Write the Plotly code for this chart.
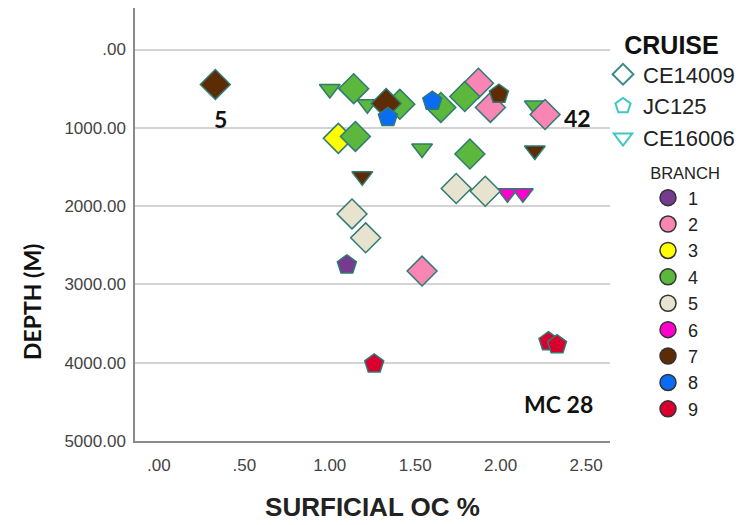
import plotly.graph_objects as go

# ---- data ----
cruise_names = ["CE14009", "JC125", "CE16006"]
branch_names = ["1", "2", "3", "4", "5", "6", "7", "8", "9"]

ce14009_oc =     [0.33, 1.14, 1.41, 1.33, 1.65, 1.87, 1.79, 1.94, 2.26, 1.05, 1.15, 1.82, 1.74, 1.91, 1.13, 1.21, 1.54]
ce14009_depth =  [446,  500,  700,  690,  740,  430,  600,  740,  830, 1135, 1110, 1335, 1775, 1810, 2100, 2405, 2830]
ce14009_branch = [7,    4,    4,    7,    4,    2,    4,    2,    2,    3,    4,    4,    5,    5,    5,    5,    2]

jc125_oc =     [1.34, 1.60, 1.99, 1.10, 2.28, 2.33, 1.26]
jc125_depth =  [866,  660,  570,  2750, 3730, 3770, 4015]
jc125_branch = [8,    8,    7,    1,    9,    9,    9]

ce16006_oc =     [1.00, 1.22, 2.20, 1.54, 2.20, 1.19, 2.04, 2.13]
ce16006_depth =  [505,  700,  715,  1265, 1290, 1620, 1835, 1835]
ce16006_branch = [4,    4,    4,    4,    7,    7,    6,    6]

x_tickvals = [0, 0.5, 1.0, 1.5, 2.0, 2.5]
x_ticktext = [".00", ".50", "1.00", "1.50", "2.00", "2.50"]
y_tickvals = [0, 1000, 2000, 3000, 4000, 5000]
y_ticktext = [".00", "1000.00", "2000.00", "3000.00", "4000.00", "5000.00"]

labels_text = ["5", "42", "MC 28"]
labels_x = [0.36, 2.45, 2.34]
labels_y = [892, 879, 4522]

# ---- styles ----
branch_colors = {1: "#763A8E", 2: "#F985B4", 3: "#FFFF00", 4: "#5CB83C", 5: "#E8E3CF",
                 6: "#FF00CC", 7: "#5E2C04", 8: "#0A6CF2", 9: "#D9002F"}
cruise_symbols = {"CE14009": "diamond", "JC125": "pentagon", "CE16006": "triangle-down"}
cruise_sizes = {"CE14009": 23, "JC125": 20, "CE16006": 18}
cruise_legend_colors = {"CE14009": "#3F8A8A", "JC125": "#40C8C0", "CE16006": "#40C8C0"}
outline = "#2F7A72"

datasets = {
    "CE14009": (ce14009_oc, ce14009_depth, ce14009_branch),
    "JC125": (jc125_oc, jc125_depth, jc125_branch),
    "CE16006": (ce16006_oc, ce16006_depth, ce16006_branch),
}

# page geometry (the page body adds an 8px offset)
PL, PR, PT, PB = 135, 610, 8, 441   # plot area in page pixels
PW, PH = PR - PL, PB - PT


def px(xp):
    return (xp - PL) / PW


def py(yp):
    return (PB - yp) / PH


fig = go.Figure()

# data traces (no legend)
for cname in ["CE16006", "CE14009", "JC125"]:
    xs, ys, bs = datasets[cname]
    fig.add_trace(go.Scatter(
        x=xs, y=ys, mode="markers", showlegend=False,
        marker=dict(symbol=cruise_symbols[cname], size=cruise_sizes[cname],
                    color=[branch_colors[b] for b in bs],
                    line=dict(color=outline, width=1.5)),
        hoverinfo="x+y"))

# legend: cruise shapes
for i, cname in enumerate(cruise_names):
    fig.add_trace(go.Scatter(
        x=[None], y=[None], mode="markers", name=cname, legend="legend",
        legendgroup="c" + str(i),
        marker=dict(symbol=cruise_symbols[cname] + "-open", size=16,
                    color=cruise_legend_colors[cname],
                    line=dict(color=cruise_legend_colors[cname], width=2))))

# legend: branch colours
for i, bname in enumerate(branch_names):
    fig.add_trace(go.Scatter(
        x=[None], y=[None], mode="markers", name=bname, legend="legend2",
        marker=dict(symbol="circle", size=16, color=branch_colors[int(bname)],
                    line=dict(color="#333333", width=1.5))))

for t, lx, ly in zip(labels_text, labels_x, labels_y):
    fig.add_annotation(x=lx, y=ly, text=t, showarrow=False,
                       font=dict(family="Lato", size=23, color="#111111", weight="bold"))

fig.add_annotation(xref="paper", yref="paper", x=px(32), y=py(302),
                   xanchor="center", yanchor="middle",
                   text="DEPTH (M)", textangle=-90, showarrow=False,
                   font=dict(family="Lato", size=23, color="#111111", weight="bold"))

tickfont = dict(family="Liberation Sans, Arial", size=17, color="#444444")

fig.update_layout(
    width=747, height=525,
    margin=dict(l=PL - 8, r=747 - (PR - 8), t=PT - 8, b=525 - (PB - 8), autoexpand=False),
    paper_bgcolor="white", plot_bgcolor="white",
    xaxis=dict(range=[-0.14, 2.64], tickvals=x_tickvals, ticktext=x_ticktext,
               showgrid=False, zeroline=False, showline=True, linecolor="#8A8A8A",
               linewidth=1.5, ticks="", tickfont=tickfont, ticklabelstandoff=8,
               title=dict(text="SURFICIAL OC %", standoff=24,
                          font=dict(family="Liberation Sans, Arial", size=26,
                                    color="#222222", weight="bold"))),
    yaxis=dict(range=[5000, -530], tickvals=y_tickvals, ticktext=y_ticktext,
               showgrid=True, gridcolor="#D3D3D3", gridwidth=2, zeroline=False,
               showline=True, linecolor="#8A8A8A", linewidth=1.5, ticks="",
               tickfont=tickfont, ticklabelstandoff=4),
    legend=dict(x=px(603), y=py(21), xanchor="left", yanchor="top",
                font=dict(family="Liberation Sans, Arial", size=22, color="#222222"),
                title=dict(text="CRUISE", side="top center",
                           font=dict(family="Liberation Sans, Arial", size=25,
                                     color="#111111", weight="bold")),
                bgcolor="rgba(0,0,0,0)", tracegroupgap=0, itemsizing="trace"),
    legend2=dict(x=px(648), y=py(158), xanchor="left", yanchor="top",
                 font=dict(family="Liberation Sans, Arial", size=18, color="#222222"),
                 title=dict(text="BRANCH", side="top center",
                            font=dict(family="Liberation Sans, Arial", size=16.5,
                                      color="#222222")),
                 bgcolor="rgba(0,0,0,0)", itemsizing="trace"),
)

fig.write_html("out.html")
